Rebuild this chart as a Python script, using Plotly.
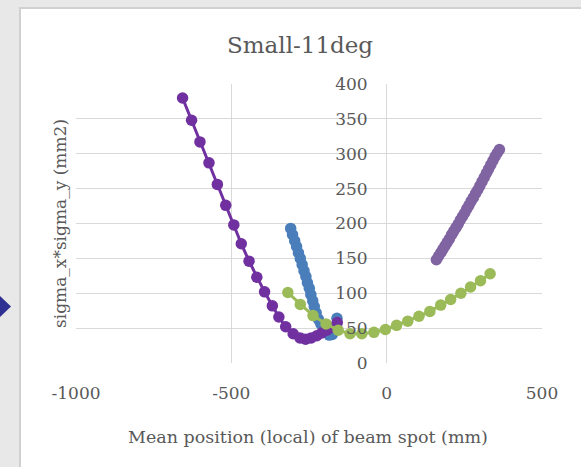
import plotly.graph_objects as go

# ---------------- data ----------------
blue_x = [-309, -303, -296, -290, -284, -278, -272, -266, -260, -255, -249, -244,
          -238, -233, -227, -220, -212, -204, -195, -185, -175, -167, -160]
blue_y = [193, 184, 175, 167, 158, 150, 141, 132, 124, 115, 107, 98,
          89, 81, 72, 63, 56, 50, 44, 40, 41, 50, 64]

dpurple_x = [-657, -628, -601, -572, -545, -518, -492, -468, -443, -418, -393, -368,
             -347, -325, -301, -279, -261, -243, -225, -209, -193, -177, -159]
dpurple_y = [380, 348, 317, 287, 256, 226, 198, 171, 146, 123, 102, 82,
             66, 52, 42, 36, 34, 36, 39, 43, 47, 51, 58]

green_x = [-318, -278, -237, -195, -156, -118, -80, -41, -4, 32, 68, 104,
           139, 174, 206, 239, 270, 302, 333]
green_y = [101, 84, 68, 56, 47, 42, 42, 44, 48, 54, 60, 67,
           74, 83, 91, 100, 109, 118, 128]

lpurple_x = [160, 167, 174, 181, 188, 195, 202, 209, 216, 223, 230, 237, 244, 251, 258,
             265, 272, 279, 286, 293, 300, 307, 314, 321, 328, 335, 342, 349, 356, 363]
lpurple_y = [148, 153, 158, 163, 168, 173, 178, 184, 189, 194, 199, 205, 210, 215, 221,
             226, 232, 237, 243, 248, 254, 260, 266, 272, 278, 284, 290, 296, 301, 306]

x_ticks = [-1000, -500, 0, 500]
x_tick_labels = ["-1000", "-500", "0", "500"]
y_ticks = [0, 50, 100, 150, 200, 250, 300, 350, 400]
y_tick_labels = ["0", "50", "100", "150", "200", "250", "300", "350", "400"]

title_text = "Small-11deg"
x_title = "Mean position (local) of beam spot (mm)"
y_title = "sigma_x*sigma_y (mm2)"

# ---------------- layout geometry ----------------
W, H = 581, 467
ML, MR, MT, MB = 76, 39, 84, 104
PW, PH = W - ML - MR, H - MT - MB
XR = [-1000, 500]
YR = [0, 400]


def px_x(px):
    return (px - ML) / PW


def px_y(py):
    return (H - MB - py) / PH


FONT = "DejaVu Serif"
TXT = "#595959"
GRID = "#d9d9d9"

fig = go.Figure()


def add_series(xs, ys, color):
    fig.add_trace(go.Scatter(
        x=xs, y=ys, mode="lines+markers",
        line=dict(color=color, width=3),
        marker=dict(color=color, size=11.5),
        showlegend=False, hoverinfo="x+y"))


add_series(blue_x, blue_y, "#4A7EBB")
add_series(dpurple_x, dpurple_y, "#7030A0")
add_series(green_x, green_y, "#9BBB59")
add_series(lpurple_x, lpurple_y, "#8064A2")

zero_pos = (0 - XR[0]) / (XR[1] - XR[0])

fig.update_layout(
    width=W, height=H,
    margin=dict(l=ML, r=MR, t=MT, b=MB, pad=0),
    paper_bgcolor="#e8e8e8",
    plot_bgcolor="rgba(0,0,0,0)",
    font=dict(family=FONT, color=TXT, size=17),
    xaxis=dict(range=XR, tickvals=x_ticks, ticktext=x_tick_labels,
               showgrid=True, gridcolor=GRID, gridwidth=1,
               zeroline=False, showline=False, ticks="", ticklabelstandoff=18,
               tickfont=dict(family=FONT, size=17, color=TXT)),
    yaxis=dict(range=YR, tickvals=y_ticks, ticktext=y_tick_labels,
               showgrid=True, gridcolor=GRID, gridwidth=1,
               zeroline=False, showline=False, ticks="", anchor="free",
               position=zero_pos, ticklabelstandoff=19,
               tickfont=dict(family=FONT, size=17, color=TXT)),
    shapes=[
        dict(type="rect", xref="paper", yref="paper", layer="below",
             x0=px_x(20), x1=px_x(W + 5), y0=px_y(H + 5), y1=px_y(8),
             fillcolor="white", line=dict(color="#d0d0d0", width=2)),
        dict(type="path", xref="paper", yref="paper", layer="above",
             path=f"M {px_x(0)} {px_y(296)} L {px_x(11)} {px_y(306.5)} L {px_x(0)} {px_y(317)} Z",
             fillcolor="#2E3192", line=dict(width=0)),
    ],
    annotations=[
        dict(text=title_text, xref="paper", yref="paper", x=px_x(300), y=px_y(45),
             xanchor="center", yanchor="middle", showarrow=False,
             font=dict(family=FONT, size=23, color=TXT)),
        dict(text=x_title, xref="paper", yref="paper", x=px_x(308), y=px_y(437),
             xanchor="center", yanchor="middle", showarrow=False,
             font=dict(family=FONT, size=17.5, color=TXT)),
        dict(text=y_title, xref="paper", yref="paper", x=px_x(60), y=px_y(224),
             xanchor="center", yanchor="middle", showarrow=False, textangle=-90,
             font=dict(family=FONT, size=17, color=TXT)),
    ],
)

fig.write_html("out.html", config={"displayModeBar": False},
               post_script="document.body.style.margin='0';document.body.style.overflow='hidden';")
